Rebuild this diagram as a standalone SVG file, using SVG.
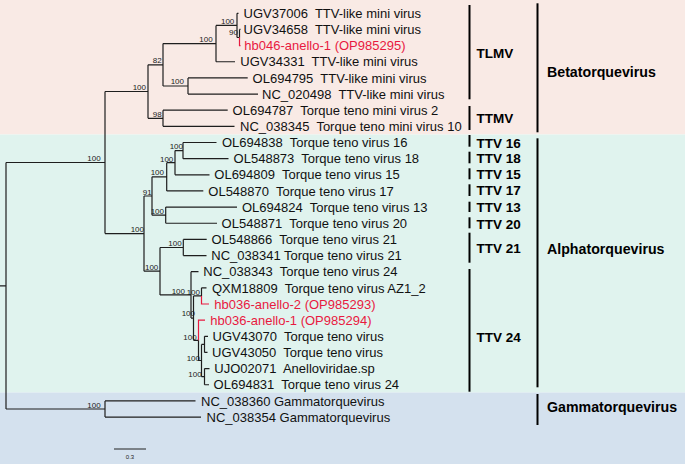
<svg xmlns="http://www.w3.org/2000/svg" width="685" height="464" viewBox="0 0 685 464" xml:space="preserve">
<style>
.br{fill:none;stroke:#1e1e1e;stroke-width:1.2}
.rbr{fill:none;stroke:#e8193f;stroke-width:1.2}
.bar{fill:none;stroke:#000;stroke-width:2}
text{font-family:"Liberation Sans",Arial,sans-serif;white-space:pre}
.lf{font-size:13px;fill:#111}
.rl{font-size:13px;fill:#e8193f}
.bs{font-size:8px;fill:#222;text-anchor:end}
.cl{font-size:13.5px;font-weight:bold;fill:#000}
.gn{font-size:14.2px;font-weight:bold;fill:#000}
</style>
<g id="background">
<rect x="0" y="0" width="685" height="134.5" fill="#f9eae5"/>
<rect x="0" y="134.5" width="685" height="258" fill="#e0f3ee"/>
<rect x="0" y="392.5" width="685" height="71.5" fill="#d4e1ee"/>
</g>
<g id="connectors">
<path class="br" d="M0,285.8H6M6,162.5V409M6,162.5H105M105,91.5V233.6M105,91.5H148M148,64.8V118.3M148,64.8H163M163,43.6V86M163,43.6H216M216,25.4V61.75M216,61.75H235M216,25.4H237M237,13.3V37.5M237,13.3H238.5M237,37.5H239.5M239.5,29.45V37.5M239.5,29.45H240.5M163,86H188M188,77.9V94.05M188,77.9H247.7M188,94.05H258M148,118.3H163M163,110.2V126.35M163,110.2H227.7M163,126.35H234.5"/>
<path class="br" d="M105,233.6H144M144,196V271.2M144,196H152M152,176.8V215.2M152,176.8H166.7M166.7,162.7V190.95M166.7,190.95H203.3M166.7,162.7H175M175,150.6V174.8M175,174.8H209.5M175,150.6H183M183,142.5V158.65M183,142.5H216.5M183,158.65H228.5M152,215.2H165.7M165.7,207.1V223.25M165.7,207.1H237M165.7,223.25H217M144,271.2H160M160,247.5V294.9M160,247.5H183.3M183.3,239.4V255.55M183.3,239.4H206.7M183.3,255.55H206.5"/>
<path class="br" d="M160,294.9H191M191,271.7V318.1M191,271.7H198.5M191,318.1H193.5M193.5,295.9V340.3M193.5,295.9H201.5M201.5,287.85V295.9M201.5,287.85H206.5M193.5,340.3H198.5M198.5,340.3V360.5H201.5M201.5,344.4V376.7M201.5,344.4H204.5M204.5,336.3V352.45M204.5,336.3H208M204.5,352.45H207.5M201.5,376.7H204.5M204.5,368.6V384.75M204.5,368.6H209.5M204.5,384.75H209M6,409H105M105,400.9V417.05M105,400.9H195.5M105,417.05H201"/>
<path class="rbr" d="M239.5,37.5V45.6H240.5M201.5,295.9V304H209M198.5,340.3V320.15H205"/>
</g>
<g id="bootstrap">
<text class="bs" x="234.3" y="24">100</text>
<text class="bs" x="238" y="35">90</text>
<text class="bs" x="212.7" y="42.3">100</text>
<text class="bs" x="184" y="84.3">100</text>
<text class="bs" x="161.7" y="63.3">82</text>
<text class="bs" x="161.7" y="116.7">98</text>
<text class="bs" x="146" y="90">100</text>
<text class="bs" x="100.7" y="161.3">100</text>
<text class="bs" x="183" y="148.5">100</text>
<text class="bs" x="173.3" y="161.5">100</text>
<text class="bs" x="164" y="175.2">100</text>
<text class="bs" x="151.7" y="194.5">91</text>
<text class="bs" x="164" y="213.5">100</text>
<text class="bs" x="144" y="232">100</text>
<text class="bs" x="181.7" y="246.3">100</text>
<text class="bs" x="158.3" y="270">100</text>
<text class="bs" x="185" y="293.5">100</text>
<text class="bs" x="200" y="295">100</text>
<text class="bs" x="195" y="316.3">100</text>
<text class="bs" x="196.7" y="339.5">100</text>
<text class="bs" x="200" y="361">100</text>
<text class="bs" x="201.7" y="377.3">100</text>
<text class="bs" x="100.7" y="408">100</text>
</g>
<g id="leaf-UGV37006"><text class="lf" x="243.6" y="17.95">UGV37006  TTV-like mini virus</text></g>
<g id="leaf-UGV34658"><text class="lf" x="243.6" y="34.1">UGV34658  TTV-like mini virus</text></g>
<g id="leaf-hb046-anello-1"><text class="rl" x="244.3" y="50.25">hb046-anello-1 (OP985295)</text></g>
<g id="leaf-UGV34331"><text class="lf" x="240.3" y="66.4">UGV34331  TTV-like mini virus</text></g>
<g id="leaf-OL694795"><text class="lf" x="252.6" y="82.55">OL694795  TTV-like mini virus</text></g>
<g id="leaf-NC_020498"><text class="lf" x="262" y="98.7">NC_020498  TTV-like mini virus</text></g>
<g id="leaf-OL694787"><text class="lf" x="232.6" y="114.85">OL694787  Torque teno mini virus 2</text></g>
<g id="leaf-NC_038345"><text class="lf" x="240" y="131">NC_038345  Torque teno mini virus 10</text></g>
<g id="leaf-OL694838"><text class="lf" x="222" y="147.15">OL694838  Torque teno virus 16</text></g>
<g id="leaf-OL548873"><text class="lf" x="233.6" y="163.3">OL548873  Torque teno virus 18</text></g>
<g id="leaf-OL694809"><text class="lf" x="214.3" y="179.45">OL694809  Torque teno virus 15</text></g>
<g id="leaf-OL548870"><text class="lf" x="208.3" y="195.6">OL548870  Torque teno virus 17</text></g>
<g id="leaf-OL694824"><text class="lf" x="242" y="211.75">OL694824  Torque teno virus 13</text></g>
<g id="leaf-OL548871"><text class="lf" x="221.6" y="227.9">OL548871  Torque teno virus 20</text></g>
<g id="leaf-OL548866"><text class="lf" x="211.6" y="244.05">OL548866  Torque teno virus 21</text></g>
<g id="leaf-NC_038341"><text class="lf" x="211.3" y="260.2">NC_038341 Torque teno virus 21</text></g>
<g id="leaf-NC_038343"><text class="lf" x="203.3" y="276.35">NC_038343  Torque teno virus 24</text></g>
<g id="leaf-QXM18809"><text class="lf" x="212" y="292.5">QXM18809  Torque teno virus AZ1_2</text></g>
<g id="leaf-hb036-anello-2"><text class="rl" x="214.3" y="308.65">hb036-anello-2 (OP985293)</text></g>
<g id="leaf-hb036-anello-1"><text class="rl" x="210.3" y="324.8">hb036-anello-1 (OP985294)</text></g>
<g id="leaf-UGV43070"><text class="lf" x="212.6" y="340.95">UGV43070  Torque teno virus</text></g>
<g id="leaf-UGV43050"><text class="lf" x="212" y="357.1">UGV43050  Torque teno virus</text></g>
<g id="leaf-UJO02071"><text class="lf" x="214.3" y="373.25">UJO02071  Anelloviridae.sp</text></g>
<g id="leaf-OL694831"><text class="lf" x="213.6" y="389.4">OL694831  Torque teno virus 24</text></g>
<g id="leaf-NC_038360"><text class="lf" x="201" y="405.55">NC_038360 Gammatorquevirus</text></g>
<g id="leaf-NC_038354"><text class="lf" x="206.6" y="421.7">NC_038354 Gammatorquevirus</text></g>
<g id="clade-TLMV"><path class="bar" d="M469.5,5V99.3"/><text class="cl" x="476.5" y="58.2">TLMV</text></g>
<g id="clade-TTMV"><path class="bar" d="M469.5,106V130"/><text class="cl" x="476.5" y="122.5">TTMV</text></g>
<g id="clade-TTV16"><path class="bar" d="M469.5,135V146.7"/><text class="cl" x="476.5" y="147.5">TTV 16</text></g>
<g id="clade-TTV18"><path class="bar" d="M469.5,151.7V163.3"/><text class="cl" x="476.5" y="162.5">TTV 18</text></g>
<g id="clade-TTV15"><path class="bar" d="M469.5,168.3V179.3"/><text class="cl" x="476.5" y="178.9">TTV 15</text></g>
<g id="clade-TTV17"><path class="bar" d="M469.5,184.3V196"/><text class="cl" x="476.5" y="194.9">TTV 17</text></g>
<g id="clade-TTV13"><path class="bar" d="M469.5,201.7V212"/><text class="cl" x="476.5" y="211.6">TTV 13</text></g>
<g id="clade-TTV20"><path class="bar" d="M469.5,217.3V228.3"/><text class="cl" x="476.5" y="228.9">TTV 20</text></g>
<g id="clade-TTV21"><path class="bar" d="M469.5,232.7V262.7"/><text class="cl" x="476.5" y="253.2">TTV 21</text></g>
<g id="clade-TTV24"><path class="bar" d="M469.5,269V391.7"/><text class="cl" x="476.5" y="341.6">TTV 24</text></g>
<g id="genus-Betatorquevirus"><path class="bar" d="M537.5,3.3V132.3"/><text class="gn" x="547" y="76.8">Betatorquevirus</text></g>
<g id="genus-Alphatorquevirus"><path class="bar" d="M537.5,138.3V387.3"/><text class="gn" x="547" y="254.1">Alphatorquevirus</text></g>
<g id="genus-Gammatorquevirus"><path class="bar" d="M537.5,394V425"/><text class="gn" x="547" y="412.4">Gammatorquevirus</text></g>
<g id="scale-bar"><path d="M114,449H146" fill="none" stroke="#222" stroke-width="1"/><text x="130" y="459" font-size="6" fill="#222" text-anchor="middle">0.3</text></g>
</svg>
